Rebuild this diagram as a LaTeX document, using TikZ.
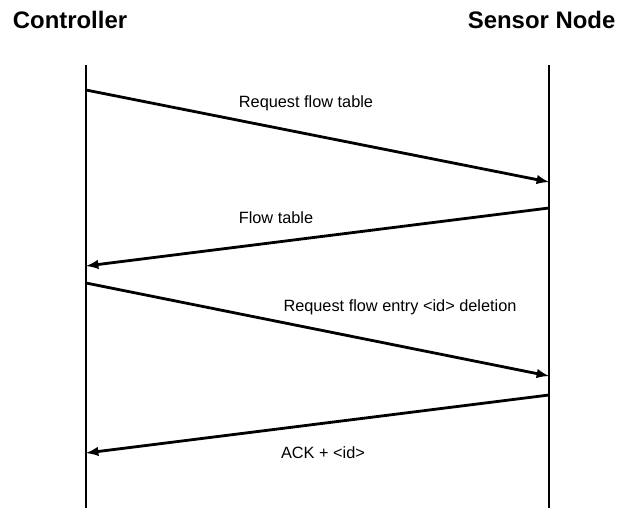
\documentclass[tikz,border=0pt]{standalone}
\usepackage{fontspec}
\setmainfont{Liberation Sans}
\usetikzlibrary{arrows}

\tikzset{
	title/.style={font=\fontsize{17}{20}\selectfont\bfseries},
	msglabel/.style={font=\fontsize{11.6}{14}\selectfont},
	lifeline/.style={line width=0.85pt},
	msg/.style={line width=2pt,->},
}

\begin{document}
\begin{tikzpicture}[>=latex]
		\useasboundingbox (0,0) rectangle (15.45,-12.7);
		%\draw [help lines] (0,0) grid (15,-12);
		% Titoli
		\node [title] (ctrl) at (1.75,-0.5) {Controller};
		\node [title] (sens) at (13.54,-0.5) {Sensor Node};
		% Linee di vita
		\coordinate (ctop) at (2.15,-1.625);
		\coordinate (cbot) at (2.15,-12.7);
		\coordinate (stop) at (13.725,-1.625);
		\coordinate (sbot) at (13.725,-12.7);
		\draw [lifeline] (ctop) -- (cbot);
		\draw [lifeline] (stop) -- (sbot);
		% Punti dei messaggi
		\coordinate (c1) at (2.15,-2.25);
		\coordinate (s1) at (13.725,-4.55);
		\coordinate (s2) at (13.725,-5.2);
		\coordinate (c2) at (2.15,-6.65);
		\coordinate (c3) at (2.15,-7.075);
		\coordinate (s3) at (13.725,-9.4);
		\coordinate (s4) at (13.725,-9.875);
		\coordinate (c4) at (2.15,-11.325);
		% Messaggi
		\draw [msg] (c1) -- (s1);
		\draw [msg] (s2) -- (c2);
		\draw [msg] (c3) -- (s3);
		\draw [msg] (s4) -- (c4);
		% Etichette
		\node [msglabel] (l1) at (7.65,-2.575) {Request flow table};
		\node [msglabel] (l2) at (6.9,-5.45) {Flow table};
		\node [msglabel] (l3) at (10.0,-7.675) {Request flow entry <id> deletion};
		\node [msglabel] (l4) at (8.075,-11.325) {ACK + <id>};
	\end{tikzpicture}
\end{document}
